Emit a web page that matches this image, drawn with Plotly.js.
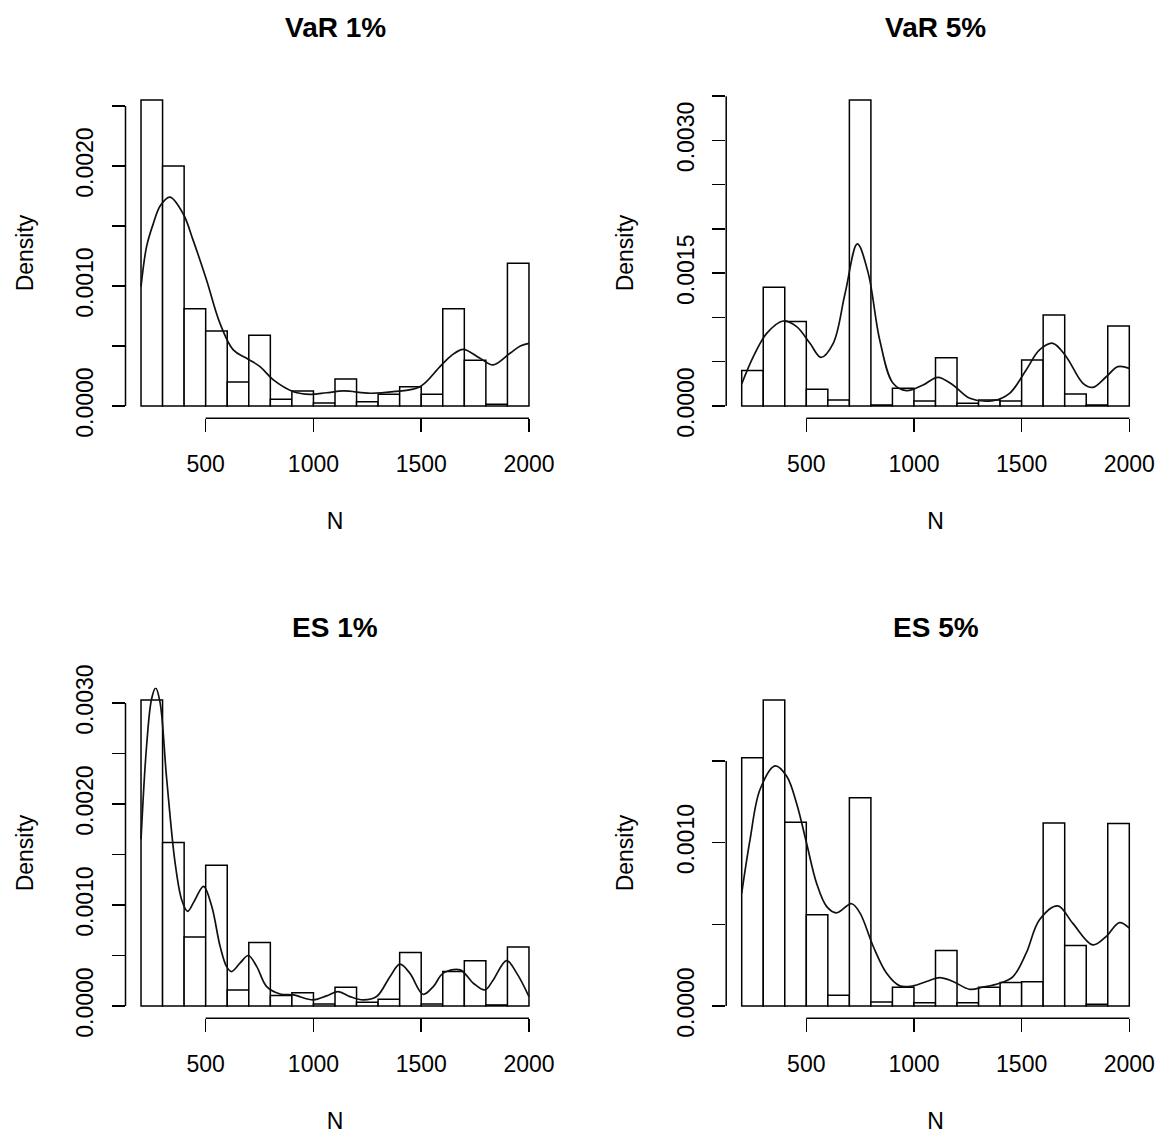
<!DOCTYPE html>
<html>
<head>
<meta charset="utf-8">
<script src="https://cdn.plot.ly/plotly-3.0.1.min.js"></script>
<style>html,body{margin:0;padding:0;background:#fff;}#chart{width:1162px;height:1135px;}</style>
</head>
<body>
<div id="chart"></div>
<script>
// ---- Data ----
const panelTitles = ['VaR 1%', 'VaR 5%', 'ES 1%', 'ES 5%'];
const binEdges = [200, 300, 400, 500, 600, 700, 800, 900, 1000, 1100, 1200, 1300, 1400, 1500, 1600, 1700, 1800, 1900, 2000];
const binMids = [250, 350, 450, 550, 650, 750, 850, 950, 1050, 1150, 1250, 1350, 1450, 1550, 1650, 1750, 1850, 1950];

const histVaR1 = [0.00255, 0.00200, 0.00081, 0.000625, 0.00020, 0.00059, 0.000055, 0.000125, 0.000025, 0.000225, 0.000036, 0.000097, 0.00016, 0.000097, 0.00081, 0.00038, 0.000014, 0.00119];
const histVaR5 = [0.00040, 0.00134, 0.000953, 0.000188, 0.000068, 0.003456, 0.00001, 0.00020, 0.000056, 0.000546, 0.00003, 0.000068, 0.000056, 0.00052, 0.001028, 0.000136, 0.00001, 0.000904];
const histES1 = [0.00303, 0.00162, 0.000682, 0.001394, 0.000159, 0.000629, 0.000103, 0.000132, 0.00002, 0.000185, 0.000036, 0.000066, 0.00053, 0.00002, 0.000341, 0.000447, 0.00001, 0.000583];
const histES5 = [0.001519, 0.001873, 0.001125, 0.000558, 0.000065, 0.001274, 0.000025, 0.000115, 0.00002, 0.000339, 0.00002, 0.000115, 0.000143, 0.000149, 0.00112, 0.00037, 0.00001, 0.001117];

const densXVaR1 = [200, 226, 257, 290, 334, 396, 442, 504, 566, 628, 690, 752, 814, 907, 985, 1060, 1140, 1263, 1370, 1494, 1587, 1640, 1695, 1773, 1834, 1912, 1960, 2000];
const densYVaR1 = [9.94e-4, 13.3e-4, 15.2e-4, 16.7e-4, 17.4e-4, 16.0e-4, 13.8e-4, 10.5e-4, 6.9e-4, 4.67e-4, 3.97e-4, 3.28e-4, 2.17e-4, 1.19e-4, 0.97e-4, 1.1e-4, 1.25e-4, 1.06e-4, 1.19e-4, 1.6e-4, 3.28e-4, 4.2e-4, 4.72e-4, 3.97e-4, 3.42e-4, 4.39e-4, 5.0e-4, 5.22e-4];

const densXVaR5 = [200, 254, 316, 393, 455, 517, 568, 625, 680, 737, 787, 841, 903, 965, 1042, 1111, 1181, 1259, 1367, 1444, 1521, 1583, 1645, 1707, 1785, 1831, 1893, 1947, 2000];
const densYVaR5 = [2.48e-4, 5.57e-4, 8.2e-4, 9.6e-4, 8.96e-4, 7.08e-4, 5.5e-4, 7.08e-4, 12.7e-4, 18.3e-4, 15.06e-4, 7.45e-4, 2.56e-4, 1.73e-4, 2.37e-4, 3.24e-4, 2.37e-4, 0.87e-4, 0.6e-4, 1.43e-4, 4.07e-4, 6.33e-4, 7.08e-4, 5.57e-4, 2.56e-4, 2.1e-4, 3.3e-4, 4.44e-4, 4.25e-4];

const densXES1 = [200, 226, 249, 268, 288, 319, 358, 389, 416, 450, 490, 528, 567, 597, 620, 659, 698, 737, 783, 845, 907, 1000, 1061, 1115, 1169, 1231, 1293, 1355, 1401, 1447, 1509, 1556, 1602, 1680, 1742, 1796, 1834, 1896, 1943, 2000];
const densYES1 = [16.5e-4, 25.8e-4, 30.4e-4, 31.5e-4, 30.1e-4, 22.5e-4, 14.2e-4, 10.5e-4, 9.37e-4, 10.5e-4, 11.85e-4, 9.87e-4, 5.9e-4, 3.9e-4, 3.41e-4, 4.24e-4, 5.0e-4, 3.9e-4, 1.92e-4, 1.19e-4, 1.09e-4, 0.6e-4, 1.0e-4, 1.42e-4, 0.93e-4, 0.6e-4, 0.93e-4, 2.9e-4, 4.14e-4, 3.25e-4, 1.16e-4, 1.92e-4, 3.25e-4, 3.58e-4, 2.25e-4, 1.59e-4, 2.58e-4, 4.5e-4, 3.25e-4, 0.93e-4];

const densXES5 = [200, 239, 285, 355, 409, 455, 501, 548, 594, 640, 710, 749, 811, 873, 934, 996, 1058, 1120, 1181, 1259, 1320, 1398, 1460, 1521, 1583, 1668, 1737, 1830, 1892, 1954, 2000];
const densYES5 = [6.9e-4, 10.2e-4, 13.25e-4, 14.7e-4, 14.07e-4, 12.4e-4, 9.98e-4, 7.5e-4, 6.1e-4, 5.7e-4, 6.26e-4, 5.7e-4, 3.64e-4, 2.0e-4, 1.23e-4, 1.23e-4, 1.5e-4, 1.74e-4, 1.5e-4, 1.02e-4, 1.15e-4, 1.39e-4, 1.8e-4, 3.23e-4, 5.28e-4, 6.13e-4, 5.07e-4, 3.74e-4, 4.25e-4, 5.1e-4, 4.77e-4];

const xTickVals = [500, 1000, 1500, 2000];
const xTickText = ['500', '1000', '1500', '2000'];
const yTickVals1 = [0, 0.0005, 0.0010, 0.0015, 0.0020, 0.0025];
const yTickText1 = ['0.0000', '', '0.0010', '', '0.0020', ''];
const yTickVals2 = [0, 0.0005, 0.0010, 0.0015, 0.0020, 0.0025, 0.0030, 0.0035];
const yTickText2 = ['0.0000', '', '', '0.0015', '', '', '0.0030', ''];
const yTickVals3 = [0, 0.0005, 0.0010, 0.0015, 0.0020, 0.0025, 0.0030];
const yTickText3 = ['0.0000', '', '0.0010', '', '0.0020', '', '0.0030'];
const yTickVals4 = [0, 0.0005, 0.0010, 0.0015];
const yTickText4 = ['0.0000', '', '0.0010', ''];
const xLabel = 'N';
const yLabel = 'Density';

// ---- Build ----
const hists = [histVaR1, histVaR5, histES1, histES5];
const densX = [densXVaR1, densXVaR5, densXES1, densXES5];
const densY = [densYVaR1, densYVaR5, densYES1, densYES5];
const yTickVals = [yTickVals1, yTickVals2, yTickVals3, yTickVals4];
const yTickText = [yTickText1, yTickText2, yTickText3, yTickText4];

const W = 1162, H = 1135;
const FONT = 'Liberation Sans, Arial, Helvetica, sans-serif';
const colPx = [[125.5, 544.5], [726.2, 1144.8]];
const rowPx = [[87.8, 418.2], [687.8, 1018.2]];

const binLo = binEdges[0], binHi = binEdges[binEdges.length - 1];
const xPad = 0.04 * (binHi - binLo);
const xRange = [binLo - xPad, binHi + xPad];
function binWidthOf() { return binEdges[1] - binEdges[0]; }

const traces = [];
const layout = {
  width: W, height: H,
  margin: {l: 0, r: 0, t: 0, b: 0},
  paper_bgcolor: '#ffffff', plot_bgcolor: '#ffffff',
  showlegend: false,
  bargap: 0,
  font: {family: FONT, color: '#000000', size: 23},
  annotations: [], shapes: []
};

for (let i = 0; i < 4; i++) {
  const r = Math.floor(i / 2), c = i % 2;
  const sfx = i === 0 ? '' : String(i + 1);
  const xa = 'x' + sfx, ya = 'y' + sfx;
  traces.push({
    type: 'bar', x: binMids, y: hists[i], width: binWidthOf(),
    xaxis: xa, yaxis: ya,
    marker: {color: '#ffffff', line: {color: '#000000', width: 1.5}},
    hoverinfo: 'x+y'
  });
  traces.push({
    type: 'scatter', mode: 'lines', x: densX[i], y: densY[i],
    xaxis: xa, yaxis: ya,
    line: {color: '#111111', width: 1.7, shape: 'spline', smoothing: 1.0}
  });
  const M = Math.max.apply(null, hists[i]);
  const xd = [colPx[c][0] / W, colPx[c][1] / W];
  const yd = [1 - rowPx[r][1] / H, 1 - rowPx[r][0] / H];
  layout['xaxis' + sfx] = {
    domain: xd, anchor: ya, range: xRange, fixedrange: true,
    showgrid: false, zeroline: false, showline: false,
    ticks: 'outside', ticklen: 13, tickwidth: 1.5, tickcolor: '#000000',
    tickmode: 'array', tickvals: xTickVals, ticktext: xTickText,
    tickfont: {family: FONT, size: 23, color: '#000000'},
    ticklabelstandoff: 12,
    title: {text: xLabel, font: {family: FONT, size: 23, color: '#000000'}, standoff: 37}
  };
  layout['yaxis' + sfx] = {
    domain: yd, anchor: xa, range: [-0.04 * M, 1.04 * M], fixedrange: true,
    showgrid: false, zeroline: false, showline: false,
    ticks: 'outside', ticklen: 13, tickwidth: 1.5, tickcolor: '#000000',
    tickmode: 'array', tickvals: yTickVals[i], ticktext: yTickText[i],
    tickangle: -90,
    tickfont: {family: FONT, size: 23, color: '#000000'},
    ticklabelstandoff: 9,
    title: {text: yLabel, font: {family: FONT, size: 23, color: '#000000'}, standoff: 32}
  };
  layout.shapes.push({type: 'line', xref: xa, yref: ya + ' domain',
    x0: xTickVals[0], x1: xTickVals[xTickVals.length - 1], y0: 0, y1: 0,
    line: {color: '#000000', width: 1.5}});
  const yt = yTickVals[i];
  layout.shapes.push({type: 'line', xref: xa + ' domain', yref: ya,
    x0: 0, x1: 0, y0: yt[0], y1: yt[yt.length - 1],
    line: {color: '#000000', width: 1.5}});
  layout.annotations.push({
    text: '<b>' + panelTitles[i] + '</b>', xref: 'paper', yref: 'paper',
    x: (xd[0] + xd[1]) / 2, y: 1 - (r === 0 ? 27 : 627) / H,
    xanchor: 'center', yanchor: 'middle', showarrow: false,
    font: {family: FONT, size: 28, color: '#000000'}
  });
}

Plotly.newPlot('chart', traces, layout, {staticPlot: true, displayModeBar: false});
</script>
</body>
</html>
